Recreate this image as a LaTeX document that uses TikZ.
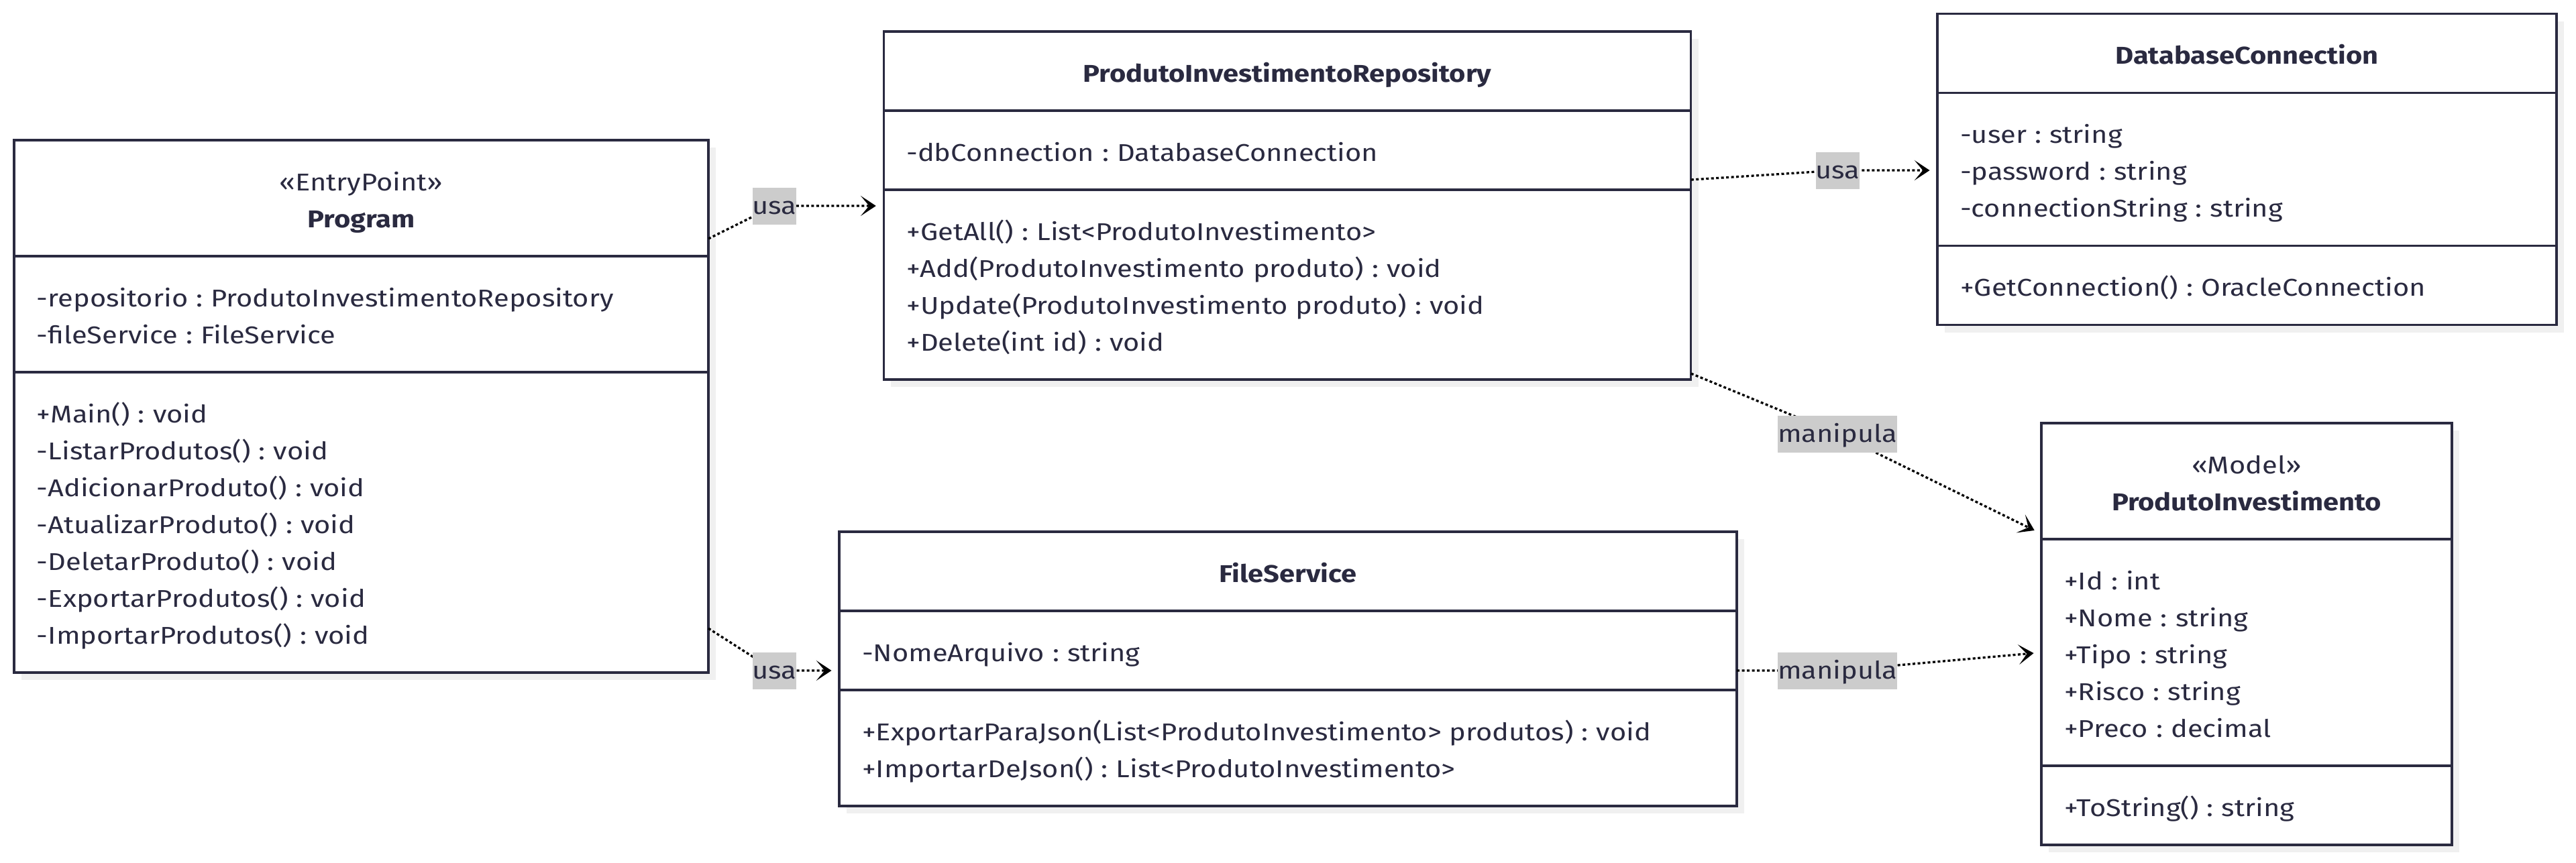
\documentclass[tikz,border=0pt]{standalone}
\usepackage{fontspec}
\setmainfont{Fira Sans}[FakeStretch=1.15]
\usepackage{xcolor}
\usepackage{tikz}
\usetikzlibrary{positioning,calc,shadows,arrows.meta}

\definecolor{umlink}{HTML}{2A2A40}
\definecolor{lblgray}{HTML}{CCCCCC}
\newcommand{\umlstrut}{\rule[-0.115cm]{0pt}{0.55cm}}
\frenchspacing

\begin{document}
\begin{tikzpicture}[
        part/.style={draw=umlink, line width=0.033cm, fill=white, rectangle,
            outer sep=0pt, inner xsep=0.34cm, inner ysep=0.315cm,
            text width=#1-0.68cm, align=left, text=umlink,
            font=\fontsize{10.3pt}{0.55cm}\selectfont,
            drop shadow={shadow xshift=0.11cm, shadow yshift=-0.11cm, fill=black!6, opacity=1},
            execute at begin node=\umlstrut, execute at end node=\umlstrut},
        head/.style={part=#1, align=center},
        lbl/.style={fill=lblgray, text=umlink, inner xsep=0pt, inner ysep=0pt,
            text height=0.40cm, text depth=0.15cm, font=\fontsize{10.3pt}{0.55cm}\selectfont},
        dep/.style={black, line width=0.033cm, dash pattern=on 0.04cm off 0.035cm,
            -{Stealth[length=0.227cm, width=0.30cm, inset=0.125cm]}, shorten >=0.115cm}
    ]
        \useasboundingbox (0,0) rectangle (38.4,-12.86);

        % Program
        \node [head=10.35cm, anchor=north] (prog) at (5.385,-2.09) {«EntryPoint»\\\textbf{Program}};
        \node [part=10.35cm, below=0pt of prog] (prog_attr) {-repositorio : ProdutoInvestimentoRepository\\-fileService : FileService};
        \node [part=10.35cm, below=0pt of prog_attr] (prog_meth) {+Main() : void\\-ListarProdutos() : void\\-AdicionarProduto() : void\\-AtualizarProduto() : void\\-DeletarProduto() : void\\-ExportarProdutos() : void\\-ImportarProdutos() : void};

        % Repository
        \node [head=12.035cm, anchor=north] (repo) at (19.19,-0.47) {\textbf{ProdutoInvestimentoRepository}};
        \node [part=12.035cm, below=0pt of repo] (repo_attr) {-dbConnection : DatabaseConnection};
        \node [part=12.035cm, below=0pt of repo_attr] (repo_meth) {+GetAll() : List<ProdutoInvestimento>\\+Add(ProdutoInvestimento produto) : void\\+Update(ProdutoInvestimento produto) : void\\+Delete(int id) : void};

        % Database
        \node [head=9.23cm, anchor=north] (db) at (33.495,-0.205) {\textbf{DatabaseConnection}};
        \node [part=9.23cm, below=0pt of db] (db_attr) {-user : string\\-password : string\\-connectionString : string};
        \node [part=9.23cm, below=0pt of db_attr] (db_meth) {+GetConnection() : OracleConnection};

        % FileService
        \node [head=13.38cm, anchor=north] (fs) at (19.2,-7.93) {\textbf{FileService}};
        \node [part=13.38cm, below=0pt of fs] (fs_attr) {-NomeArquivo : string};
        \node [part=13.38cm, below=0pt of fs_attr] (fs_meth) {+ExportarParaJson(List<ProdutoInvestimento> produtos) : void\\+ImportarDeJson() : List<ProdutoInvestimento>};

        % Model
        \node [head=6.12cm, anchor=north] (pi) at (33.49,-6.31) {«Model»\\\textbf{ProdutoInvestimento}};
        \node [part=6.12cm, below=0pt of pi] (pi_attr) {+Id : int\\+Nome : string\\+Tipo : string\\+Risco : string\\+Preco : decimal};
        \node [part=6.12cm, below=0pt of pi_attr] (pi_meth) {+ToString() : string};

        % Label spots
        \coordinate (p_usa1) at (11.545,-3.07);
        \coordinate (p_usa2) at (11.545,-10.00);
        \coordinate (p_usa3) at (27.395,-2.54);
        \coordinate (p_man1) at (27.39,-6.47);
        \coordinate (p_man2) at (27.39,-10.00);

        \draw[dep] ([yshift=0.26cm]prog.south east) -- (p_usa1) -- (p_usa1 -| repo_meth.west);
        \draw[dep] ([yshift=0.66cm]prog_meth.south east) -- (p_usa2) -- (p_usa2 -| fs_attr.west);
        \draw[dep] ([yshift=0.15cm]repo_attr.south east) -- (p_usa3) -- (p_usa3 -| db_attr.west);
        \draw[dep] ([yshift=0.09cm]repo_meth.south east) -- (p_man1) -- ([yshift=0.08cm]pi.south west);
        \draw[dep] (p_man2 -| fs_attr.east) -- (p_man2) -- ([yshift=-1.69cm]pi_attr.north west);

        \node [lbl] (usa1) at (p_usa1) {usa};
        \node [lbl] (usa2) at (p_usa2) {usa};
        \node [lbl] (usa3) at (p_usa3) {usa};
        \node [lbl] (man1) at (p_man1) {manipula};
        \node [lbl] (man2) at (p_man2) {manipula};

    \end{tikzpicture}
\end{document}
